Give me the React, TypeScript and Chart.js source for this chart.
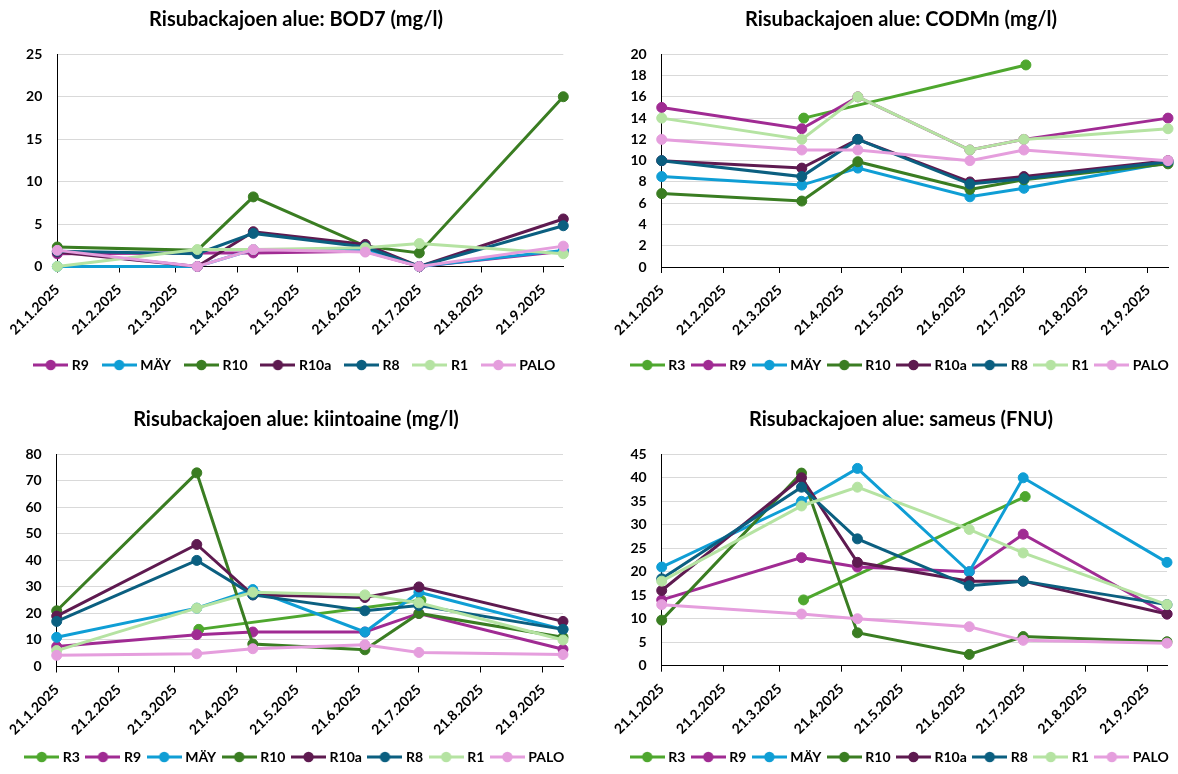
import React, { useEffect, useRef } from "react";
import { Chart, registerables } from "chart.js";

Chart.register(...registerables);

// ---------- data ----------
const seriesNames = ["R3", "R9", "MÄY", "R10", "R10a", "R8", "R1", "PALO"];
const seriesColors = ["#4EA72E", "#A02B93", "#0F9ED5", "#3A7D22", "#5E1A50", "#0B5F80", "#B5E3A2", "#E59EDD"];

const sampleDates = ["2025-01-21", "2025-04-01", "2025-04-29", "2025-06-24", "2025-07-21", "2025-10-01"];
const r3Dates = ["2025-04-02", "2025-07-22"];
const tickDates = ["2025-01-21", "2025-02-21", "2025-03-21", "2025-04-21", "2025-05-21", "2025-06-21", "2025-07-21", "2025-08-21", "2025-09-21"];

// BOD7 (mg/l)
const bodR9 = [1.5, 1.6, 1.6, 1.8, 0, 1.8];
const bodMAY = [0, 0, 2.0, 2.0, 0, 1.9];
const bodR10 = [2.3, 1.9, 8.2, 2.4, 1.6, 20];
const bodR10a = [1.7, 0, 4.1, 2.6, 0, 5.6];
const bodR8 = [1.8, 1.5, 3.9, 2.3, 0, 4.8];
const bodR1 = [0, 2.0, 2.0, 2.2, 2.7, 1.5];
const bodPALO = [1.9, 0, 2.0, 1.7, 0, 2.4];

// CODMn (mg/l)
const codR3 = [14, 19];
const codR9 = [15, 13, 16, 11, 12, 14];
const codMAY = [8.5, 7.7, 9.3, 6.6, 7.4, 9.8];
const codR10 = [6.9, 6.2, 9.9, 7.3, 8.2, 9.7];
const codR10a = [10, 9.3, 12, 8.0, 8.5, 10];
const codR8 = [10, 8.5, 12, 7.8, 8.3, 9.9];
const codR1 = [14, 12, 16, 11, 12, 13];
const codPALO = [12, 11, 11, 10, 11, 10];

// kiintoaine (mg/l)
const kiiR3 = [14, 25];
const kiiR9 = [7.5, 12, 13, 13, 20, 6.5];
const kiiMAY = [11, 22, 29, 13, 28, 14];
const kiiR10 = [21, 73, 8.5, 6.3, 20, 11];
const kiiR10a = [19, 46, 27, 26, 30, 17];
const kiiR8 = [17, 40, 27, 21, 23, 14];
const kiiR1 = [6, 22, 28, 27, 24, 10];
const kiiPALO = [4.2, 4.8, 6.7, 8.2, 5.3, 4.5];

// sameus (FNU)
const samR3 = [14, 36];
const samR9 = [14, 23, 21, 20, 28, 11];
const samMAY = [21, 35, 42, 20, 40, 22];
const samR10 = [9.7, 41, 7, 2.4, 6.2, 5.1];
const samR10a = [16, 40, 22, 18, 18, 11];
const samR8 = [18.5, 38, 27, 17, 18, 13];
const samR1 = [18, 34, 38, 29, 24, 13];
const samPALO = [13, 11, 10, 8.3, 5.4, 4.8];

const titles = [
  "Risubackajoen alue: BOD7 (mg/l)",
  "Risubackajoen alue: CODMn (mg/l)",
  "Risubackajoen alue: kiintoaine (mg/l)",
  "Risubackajoen alue: sameus (FNU)",
];
const yMaxes = [25, 20, 80, 45];
const ySteps = [5, 2, 10, 5];

const panelSeries: (number[] | null)[][] = [
  [null, bodR9, bodMAY, bodR10, bodR10a, bodR8, bodR1, bodPALO],
  [codR3, codR9, codMAY, codR10, codR10a, codR8, codR1, codPALO],
  [kiiR3, kiiR9, kiiMAY, kiiR10, kiiR10a, kiiR8, kiiR1, kiiPALO],
  [samR3, samR9, samMAY, samR10, samR10a, samR8, samR1, samPALO],
];

// ---------- layout (panel-relative px) ----------
type Layout = {
  left: number; top: number; h: number;
  chartLeft: number; chartRight: number; chartTop: number; chartBottom: number;
  titleCY: number; legendCY: number; centerX: number; legendWidth: number;
};
const layouts: Layout[] = [
  { left: 0, top: 0, h: 387, chartLeft: 57.3, chartRight: 563.3, chartTop: 54.3, chartBottom: 266.5, titleCY: 20, legendCY: 365, centerX: 296, legendWidth: 522 },
  { left: 589, top: 0, h: 387, chartLeft: 72.7, chartRight: 579, chartTop: 54.3, chartBottom: 267, titleCY: 20, legendCY: 365, centerX: 312, legendWidth: 539 },
  { left: 0, top: 387, h: 387, chartLeft: 56.7, chartRight: 563, chartTop: 67.3, chartBottom: 279.5, titleCY: 33, legendCY: 370, centerX: 296, legendWidth: 540 },
  { left: 589, top: 387, h: 387, chartLeft: 72.7, chartRight: 578, chartTop: 67.3, chartBottom: 278.7, titleCY: 33, legendCY: 370, centerX: 312, legendWidth: 539 },
];
const EXTRA = 40; // canvas extends EXTRA px on both sides of the panel

const FONT = "Lato, 'Open Sans', sans-serif";
const DAY = 86400000;
const EPOCH = Date.UTC(2025, 0, 1);
function dayNum(s: string): number {
  const [y, m, d] = s.split("-").map(Number);
  return (Date.UTC(y, m - 1, d) - EPOCH) / DAY;
}
function dayLabel(v: number): string {
  const dt = new Date(EPOCH + Math.round(v) * DAY);
  return `${dt.getUTCDate()}.${dt.getUTCMonth() + 1}.${dt.getUTCFullYear()}`;
}

const LEG_LINE = 35;
const LEG_TEXT_GAP = 3.5;
const LEG_FONT = 14;
function legendImage(color: string): HTMLCanvasElement {
  const c = document.createElement("canvas");
  c.width = LEG_LINE;
  c.height = 12;
  const g = c.getContext("2d")!;
  g.strokeStyle = color;
  g.lineWidth = 3;
  g.beginPath();
  g.moveTo(0, 6);
  g.lineTo(LEG_LINE, 6);
  g.stroke();
  g.fillStyle = color;
  g.beginPath();
  g.arc(LEG_LINE / 2, 6, 5.2, 0, Math.PI * 2);
  g.fill();
  return c;
}

function measure(text: string, size: number): number {
  const c = document.createElement("canvas");
  const g = c.getContext("2d")!;
  g.font = `bold ${size}px ${FONT}`;
  return g.measureText(text).width;
}

function PanelChart({ idx }: { idx: number }) {
  const ref = useRef<HTMLCanvasElement | null>(null);
  const L = layouts[idx];
  const W = 2 * (L.centerX + EXTRA);
  useEffect(() => {
    const series = panelSeries[idx];
    const datasets: any[] = [];
    const images: HTMLCanvasElement[] = [];
    const labels: string[] = [];
    series.forEach((vals, si) => {
      if (!vals) return;
      const ds = si === 0 ? r3Dates : sampleDates;
      const color = seriesColors[si];
      images.push(legendImage(color));
      labels.push(seriesNames[si]);
      datasets.push({
        label: seriesNames[si],
        data: vals.map((v, i) => ({ x: dayNum(ds[i]), y: v })),
        borderColor: color,
        backgroundColor: color,
        pointBackgroundColor: color,
        pointBorderColor: color,
        borderWidth: 3,
        pointRadius: 5,
        pointBorderWidth: 1,
        tension: 0,
        clip: false,
        yAxisID: "y",
        order: -si,
      });
    });

    const legFont = LEG_FONT;
    const boxW = 2 * (LEG_LINE / 2 + LEG_TEXT_GAP - legFont / 2); // pointStyleWidth
    const overhang = LEG_LINE / 2 - boxW / 2;
    const itemSum = labels.reduce((s, t) => s + boxW + legFont / 2 + measure(t, legFont), 0);
    const legPad = Math.max(6, (L.legendWidth - overhang - itemSum) / (labels.length - 1));

    const cL = L.chartLeft + EXTRA;
    const cR = L.chartRight + EXTRA;
    const rightW = W - cR;
    const titleSize = 20;
    const titleLH = titleSize * 1.2;
    const titlePadTop = L.titleCY - titleLH / 2;
    const titlePadBottom = L.chartTop - L.titleCY - titleLH / 2;
    const legH = legFont + legPad + 10;
    const legTop = L.legendCY - (legPad + legFont / 2);
    const padBottom = L.h - (legTop + legH);
    const xH = legTop - L.chartBottom;

    const tickFont = { family: FONT, size: 14, weight: "bold" };

    const chart = new Chart(ref.current!, {
      type: "line",
      data: { datasets },
      options: {
        responsive: false,
        animation: false,
        devicePixelRatio: 1,
        events: [],
        layout: { padding: { left: 0, right: 0, top: 0, bottom: padBottom } },
        scales: {
          x: {
            type: "linear",
            min: dayNum(tickDates[0]),
            max: dayNum(sampleDates[sampleDates.length - 1]),
            afterBuildTicks: (s: any) => {
              s.ticks = tickDates.map((d) => ({ value: dayNum(d) }));
            },
            afterFit: (s: any) => {
              s.height = xH;
            },
            ticks: {
              autoSkip: false,
              minRotation: 45,
              maxRotation: 45,
              padding: 9,
              labelOffset: 0,
              color: "#000",
              font: tickFont,
              callback: (v: any) => dayLabel(Number(v)),
            },
            grid: { drawOnChartArea: false, drawTicks: true, tickLength: 6, color: "#000", lineWidth: 1 },
            border: { color: "#000", width: 1 },
          },
          y: {
            position: "left",
            min: 0,
            max: yMaxes[idx],
            afterFit: (s: any) => {
              s.width = cL;
            },
            ticks: {
              stepSize: ySteps[idx],
              autoSkip: false,
              padding: 15,
              color: "#000",
              font: tickFont,
            },
            grid: { color: "#D9D9D9", drawTicks: false, lineWidth: 1 },
            border: { color: "#000", width: 1 },
          },
          y2: {
            position: "right",
            display: true,
            min: 0,
            max: 1,
            ticks: { display: false },
            grid: { display: false },
            border: { display: false },
            afterFit: (s: any) => {
              s.width = rightW;
            },
          },
        },
        plugins: {
          tooltip: { enabled: false },
          title: {
            display: true,
            text: titles[idx],
            color: "#000",
            font: { family: FONT, size: titleSize, weight: "bold", lineHeight: 1.2 },
            padding: { top: titlePadTop, bottom: titlePadBottom },
          },
          legend: {
            display: true,
            position: "bottom",
            labels: {
              usePointStyle: true,
              pointStyleWidth: boxW,
              padding: legPad,
              color: "#000",
              font: { family: FONT, size: legFont, weight: "bold" },
              sort: (a: any, b: any) => a.datasetIndex - b.datasetIndex,
              generateLabels: (ch: any) => {
                const items = (Chart.defaults.plugins.legend.labels as any).generateLabels(ch);
                return items.map((it: any) => ({ ...it, pointStyle: images[it.datasetIndex] }));
              },
            },
          },
        },
      } as any,
    });
    return () => chart.destroy();
  }, [idx]);

  return (
    <canvas
      ref={ref}
      width={W}
      height={L.h}
      style={{ position: "absolute", left: L.left - EXTRA, top: L.top, width: W, height: L.h }}
    />
  );
}

export default function App() {
  return (
    <div style={{ position: "absolute", left: 0, top: 0, width: 1178, height: 774, background: "#fff", overflow: "hidden" }}>
      {[0, 1, 2, 3].map((i) => (
        <PanelChart key={i} idx={i} />
      ))}
    </div>
  );
}
